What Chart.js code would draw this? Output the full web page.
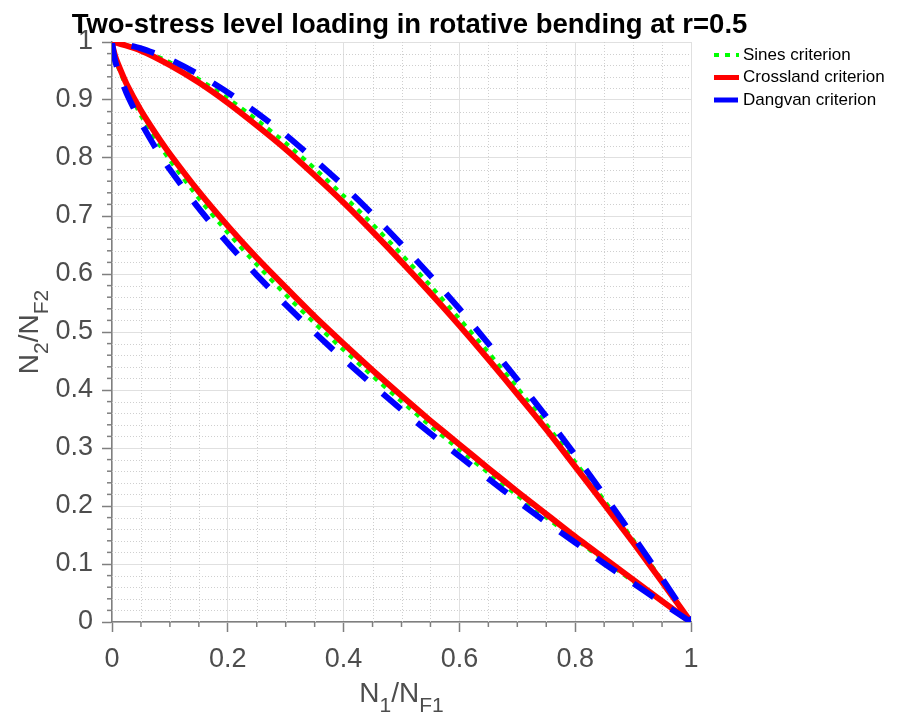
<!DOCTYPE html>
<html>
<head>
<meta charset="utf-8">
<script src="https://cdn.jsdelivr.net/npm/chart.js"></script>
<style>
  html, body { margin: 0; padding: 0; background: #fff; }
  #wrap { width: 901px; height: 720px; }
</style>
</head>
<body>
<div id="wrap"><canvas id="twoStressChart" width="901" height="720"></canvas></div>
<script>
// upper branch (above the diagonal)
const xUpper = [0, 0.05, 0.1, 0.15, 0.2, 0.25, 0.3, 0.35, 0.4, 0.45, 0.5, 0.55, 0.6, 0.65, 0.7, 0.75, 0.8, 0.85, 0.9, 0.95, 1];
const sinesUpper = [1, 0.987, 0.965, 0.936, 0.903, 0.866, 0.826, 0.782, 0.735, 0.686, 0.634, 0.580, 0.523, 0.465, 0.404, 0.341, 0.276, 0.210, 0.142, 0.072, 0];
const crosslandUpper = [1, 0.985, 0.960, 0.930, 0.895, 0.856, 0.815, 0.770, 0.723, 0.673, 0.621, 0.567, 0.511, 0.453, 0.393, 0.332, 0.268, 0.203, 0.137, 0.069, 0];
const dangvanUpper = [1, 0.989, 0.970, 0.944, 0.913, 0.878, 0.840, 0.797, 0.752, 0.703, 0.651, 0.597, 0.540, 0.480, 0.418, 0.354, 0.288, 0.219, 0.148, 0.075, 0];

// lower branch (below the diagonal)
const xLower = [0, 0.005, 0.01, 0.025, 0.05, 0.075, 0.1, 0.15, 0.2, 0.25, 0.3, 0.35, 0.4, 0.45, 0.5, 0.55, 0.6, 0.65, 0.7, 0.75, 0.8, 0.85, 0.9, 0.95, 1];
const sinesLower = [1, 0.974, 0.958, 0.922, 0.873, 0.833, 0.796, 0.730, 0.671, 0.616, 0.564, 0.515, 0.469, 0.424, 0.380, 0.338, 0.297, 0.257, 0.218, 0.180, 0.143, 0.106, 0.070, 0.035, 0];
const crosslandLower = [1, 0.977, 0.963, 0.928, 0.882, 0.843, 0.807, 0.742, 0.683, 0.628, 0.577, 0.527, 0.480, 0.434, 0.390, 0.347, 0.306, 0.265, 0.225, 0.186, 0.147, 0.110, 0.073, 0.036, 0];
const dangvanLower = [1, 0.969, 0.952, 0.912, 0.861, 0.818, 0.780, 0.713, 0.653, 0.598, 0.547, 0.499, 0.453, 0.409, 0.366, 0.325, 0.286, 0.247, 0.209, 0.172, 0.137, 0.101, 0.067, 0.033, 0];

const seriesNames = ["Sines criterion", "Crossland criterion", "Dangvan criterion"];
const titleText = "Two-stress level loading in rotative bending at r=0.5";

const FONT = "'Liberation Sans', Arial, Helvetica, sans-serif";

// lower branch walked from (1,0) back to (0,1), then the upper branch out to (1,0)
function loopPoints(xl, yl, xu, yu) {
    const lower = xl.map((x, i) => ({ x: x, y: yl[i] })).reverse();
    const upper = xu.map((x, i) => ({ x: x, y: yu[i] })).slice(1);
    return lower.concat(upper);
}

const minorGrid = {
    id: 'minorGrid',
    beforeDatasetsDraw(chart) {
        const { ctx, chartArea: a, scales: { x, y } } = chart;
        ctx.save();
        ctx.lineWidth = 1;
        ctx.strokeStyle = '#cfcfcf';
        ctx.setLineDash([1, 2]);
        const xs = [], ys = [];
        for (let i = 1; i < 20; i++) if (i % 4) xs.push(i * 0.05);
        for (let i = 1; i < 50; i++) if (i % 5) ys.push(i * 0.02);
        xs.forEach(v => {
            const px = Math.round(x.getPixelForValue(v)) + 0.5;
            ctx.beginPath(); ctx.moveTo(px, a.top); ctx.lineTo(px, a.bottom); ctx.stroke();
        });
        ys.forEach(v => {
            const py = Math.round(y.getPixelForValue(v)) + 0.5;
            ctx.beginPath(); ctx.moveTo(a.left, py); ctx.lineTo(a.right, py); ctx.stroke();
        });
        // minor tick marks, outside
        ctx.setLineDash([]);
        ctx.strokeStyle = '#7f7f7f';
        ctx.lineWidth = 1.5;
        xs.forEach(v => {
            const px = x.getPixelForValue(v);
            ctx.beginPath(); ctx.moveTo(px, a.bottom); ctx.lineTo(px, a.bottom + 5); ctx.stroke();
        });
        ys.forEach(v => {
            const py = y.getPixelForValue(v);
            ctx.beginPath(); ctx.moveTo(a.left, py); ctx.lineTo(a.left - 5, py); ctx.stroke();
        });
        ctx.restore();
    }
};

// draws "N" + sub + "/N" + sub, centred on 0 along the baseline
function drawRatio(ctx, sub1, sub2) {
    const big = '28px ' + FONT, small = '21px ' + FONT;
    const parts = [['N', big, 0], [sub1, small, 10], ['/N', big, 0], [sub2, small, 10]];
    let total = 0;
    parts.forEach(p => { ctx.font = p[1]; total += ctx.measureText(p[0]).width; });
    let cx = -total / 2;
    parts.forEach(p => {
        ctx.font = p[1];
        ctx.fillText(p[0], cx, p[2]);
        cx += ctx.measureText(p[0]).width;
    });
}

const extras = {
    id: 'extras',
    afterDraw(chart) {
        const { ctx, chartArea: a } = chart;
        ctx.save();

        // title (drawn here so it is not squeezed to the axes width)
        ctx.fillStyle = '#000';
        ctx.font = 'bold 27.5px ' + FONT;
        ctx.textAlign = 'center';
        ctx.textBaseline = 'alphabetic';
        ctx.fillText(titleText, (a.left + a.right) / 2 + 8, 33);

        ctx.fillStyle = '#4d4d4d';
        ctx.textAlign = 'left';
        // x axis title
        ctx.save();
        ctx.translate((a.left + a.right) / 2, 702);
        drawRatio(ctx, '1', 'F1');
        ctx.restore();
        // y axis title
        ctx.save();
        ctx.translate(38, (a.top + a.bottom) / 2);
        ctx.rotate(-Math.PI / 2);
        drawRatio(ctx, '2', 'F2');
        ctx.restore();

        // legend, outside the axes on the right
        const lx = a.right + 23, ly = a.top + 13;
        chart.data.datasets.forEach((ds, i) => {
            const yy = ly + i * 22.5;
            ctx.strokeStyle = ds.borderColor;
            ctx.lineWidth = Math.min(ds.borderWidth, 5);
            ctx.setLineDash(ds.borderDash || []);
            ctx.lineCap = 'butt';
            ctx.beginPath(); ctx.moveTo(lx, yy); ctx.lineTo(lx + 25, yy); ctx.stroke();
            ctx.setLineDash([]);
            ctx.fillStyle = '#000';
            ctx.font = '17px ' + FONT;
            ctx.textBaseline = 'middle';
            ctx.fillText(ds.label, lx + 29, yy);
        });
        ctx.restore();
    }
};

const tickFmt = v => String(+v.toFixed(1));

new Chart(document.getElementById('twoStressChart'), {
    type: 'scatter',
    data: {
        datasets: [
            {
                label: seriesNames[0],
                data: loopPoints(xLower, sinesLower, xUpper, sinesUpper),
                borderColor: '#00ff00',
                borderWidth: 4,
                borderDash: [5, 6],
                order: 3
            },
            {
                label: seriesNames[1],
                data: loopPoints(xLower, crosslandLower, xUpper, crosslandUpper),
                borderColor: '#ff0000',
                borderWidth: 6,
                order: 2
            },
            {
                label: seriesNames[2],
                data: loopPoints(xLower, dangvanLower, xUpper, dangvanUpper),
                borderColor: '#0000ff',
                borderWidth: 6,
                borderDash: [24, 21],
                order: 1
            }
        ]
    },
    options: {
        responsive: false,
        animation: false,
        showLine: true,
        elements: {
            point: { radius: 0, hoverRadius: 0 },
            line: { tension: 0.2, fill: false, borderJoinStyle: 'round' }
        },
        layout: { padding: { left: 50, right: 210, top: 42, bottom: 45 } },
        plugins: {
            legend: { display: false },
            tooltip: { enabled: false },
            title: { display: false }
        },
        scales: {
            x: {
                type: 'linear',
                min: 0,
                max: 1,
                afterFit: s => { s.height = 53; },
                ticks: {
                    stepSize: 0.2,
                    autoSkip: false,
                    maxRotation: 0,
                    padding: 11,
                    color: '#4d4d4d',
                    font: { family: FONT, size: 27 },
                    callback: tickFmt
                },
                grid: { color: '#e0e0e0', lineWidth: 1, tickColor: '#7f7f7f', tickLength: 10, tickWidth: 1.5 },
                border: { color: '#7f7f7f', width: 1.5 }
            },
            y: {
                type: 'linear',
                min: 0,
                max: 1,
                afterFit: s => { s.width = 62; },
                ticks: {
                    stepSize: 0.1,
                    autoSkip: false,
                    padding: 9,
                    color: '#4d4d4d',
                    font: { family: FONT, size: 27 },
                    callback: tickFmt
                },
                grid: { color: '#e0e0e0', lineWidth: 1, tickColor: '#7f7f7f', tickLength: 10, tickWidth: 1.5 },
                border: { color: '#7f7f7f', width: 1.5 }
            }
        }
    },
    plugins: [minorGrid, extras]
});
</script>
</body>
</html>
